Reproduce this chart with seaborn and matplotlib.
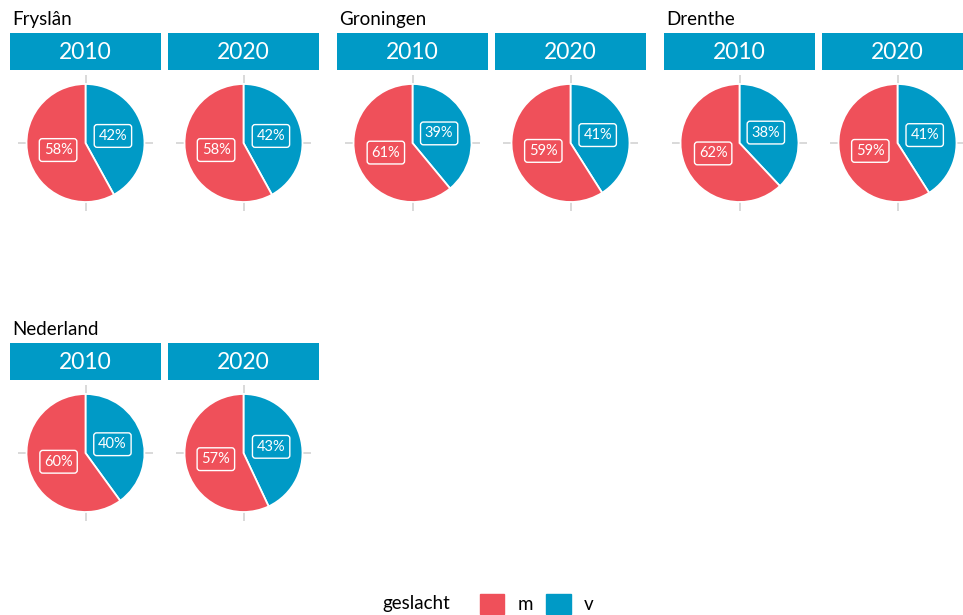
import matplotlib.pyplot as plt
import seaborn as sns
import pandas as pd
from matplotlib.patches import Patch

sns.set_theme(style="white")
plt.rcParams['font.family'] = ['Lato', 'DejaVu Sans']
plt.rcParams['text.color'] = 'black'

# aandeel mannen / vrouwen per regio en jaar (in %)
regios = ['Fryslân', 'Groningen', 'Drenthe', 'Nederland']
jaren = ['2010', '2020']
aandeel_m = [58, 58, 61, 59, 62, 59, 60, 57]
aandeel_v = [42, 42, 39, 41, 38, 41, 40, 43]

df = pd.DataFrame({
    'regio': [r for r in regios for _ in jaren],
    'jaar': jaren * len(regios),
    'm': aandeel_m,
    'v': aandeel_v,
})

kleuren = {'m': '#EF505A', 'v': '#009AC6'}

W, H = 963, 615
fig = plt.figure(figsize=(W / 100, H / 100), dpi=100)


def fx(px):
    return px / W


def fy(py):
    return 1 - py / H


# positie (pixels) van elke regio-groep
groep_x = [10, 337, 664, 10]
groep_y = [0, 0, 0, 310]
strip_w, gap = 151, 7
R = 59  # straal taart in px
ext = 1.15

for i, regio in enumerate(regios):
    gx, gy = groep_x[i], groep_y[i]
    fig.text(fx(gx + 2), fy(gy + 25), regio, fontsize=13.5, color='black', va='baseline')
    sub = df[df['regio'] == regio]
    for j, (_, rij) in enumerate(sub.iterrows()):
        x0 = gx + j * (strip_w + gap)
        cx = x0 + strip_w / 2
        cy = gy + 143
        # strip
        sax = fig.add_axes([fx(x0), fy(gy + 70), strip_w / W, 37 / H])
        sax.set_facecolor(kleuren['v'])
        sax.set_xticks([])
        sax.set_yticks([])
        for s in sax.spines.values():
            s.set_visible(False)
        sax.text(0.5, 0.47, rij['jaar'], color='white', fontsize=16.5,
                 ha='center', va='center', transform=sax.transAxes)
        # taart
        half = R * ext
        ax = fig.add_axes([fx(cx - half), fy(cy + half), 2 * half / W, 2 * half / H])
        waarden = [rij['v'], rij['m']]
        wedges, _, autotexts = ax.pie(
            waarden, colors=[kleuren['v'], kleuren['m']], startangle=90,
            counterclock=False, radius=1, autopct='%1.0f%%', pctdistance=0.48,
            wedgeprops=dict(edgecolor='white', linewidth=1.3),
            textprops=dict(color='white', fontsize=10.5))
        ax.set_xlim(-ext, ext)
        ax.set_ylim(-ext, ext)
        ax.set_xticks([0])
        ax.set_yticks([0])
        ax.tick_params(length=0, labelbottom=False, labelleft=False)
        ax.grid(True, color='#D9D9D9', lw=1.4)
        ax.set_axisbelow(True)
        for t, k in zip(autotexts, ['v', 'm']):
            t.set_bbox(dict(boxstyle='round,pad=0.3,rounding_size=0.2',
                            fc=kleuren[k], ec='white', lw=1))

# legenda
fig.text(fx(382), fy(604), 'geslacht', fontsize=13.5, va='center', ha='left')
handles = [Patch(color=kleuren['m'], label='m'), Patch(color=kleuren['v'], label='v')]
fig.legend(handles=handles, loc='center left', bbox_to_anchor=(fx(480), fy(604)),
           ncol=2, frameon=False, fontsize=13.5, handlelength=1.3, handleheight=1.3,
           handletextpad=0.7, columnspacing=0.7, borderpad=0, borderaxespad=0)

fig.savefig('out.png', dpi=100)
